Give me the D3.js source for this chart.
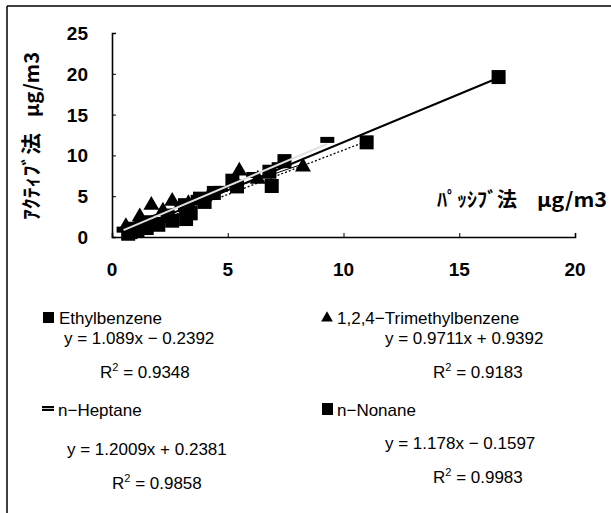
<!DOCTYPE html>
<html>
<head>
<meta charset="utf-8">
<script src="https://cdn.jsdelivr.net/npm/d3@7"></script>
<style>
  html, body { margin: 0; padding: 0; background: #fff; }
  svg { display: block; }
  text { fill: #000; }
</style>
</head>
<body>
<svg id="chart" width="611" height="513"></svg>
<script>
// Passive vs. active sampler concentrations (µg/m3) for four VOCs
const xTicks = [0, 5, 10, 15, 20];
const yTicks = [0, 5, 10, 15, 20, 25];

const ethylbenzene = [
  [0.7, 0.4], [1.1, 0.8], [1.5, 1.1], [2.0, 1.5], [2.6, 2.0], [3.2, 2.2],
  [3.4, 2.9], [3.8, 4.7], [4.4, 5.4], [5.2, 6.9], [6.9, 6.25], [7.45, 9.3],
  [11.0, 11.6]
];
const trimethylbenzene = [
  [0.6, 1.3], [1.2, 2.5], [1.7, 3.9], [2.2, 3.2], [2.6, 4.4], [3.3, 4.1],
  [4.2, 5.1], [5.5, 8.1], [6.3, 7.1], [8.25, 8.6]
];
const heptane = [
  [0.5, 0.9], [1.0, 1.5], [1.6, 2.3], [2.3, 3.1], [3.0, 4.0], [3.7, 4.8],
  [4.7, 5.9], [6.1, 7.6], [7.2, 8.8], [9.3, 11.9]
];
const nonane = [
  [0.8, 0.6], [1.3, 1.2], [1.8, 1.6], [2.4, 2.6], [3.15, 3.9], [4.0, 4.3],
  [5.4, 6.2], [6.8, 8.0], [16.7, 19.6]
];

// Fitted trend lines: [slope, intercept, R²]
const fits = {
  ethylbenzene: [1.089, -0.2392, 0.9348],
  trimethylbenzene: [0.9711, 0.9392, 0.9183],
  heptane: [1.2009, 0.2381, 0.9858],
  nonane: [1.178, -0.1597, 0.9983]
};

const svg = d3.select("#chart");
const latin = "'Liberation Sans', Arial, sans-serif";
const cjk = "'Noto Sans CJK JP', 'Liberation Sans', sans-serif";

// outer frame (top and left edges)
svg.append("line").attr("x1", 7).attr("y1", 6).attr("x2", 611).attr("y2", 6)
  .attr("stroke", "#000").attr("stroke-width", 1.5);
svg.append("line").attr("x1", 7).attr("y1", 6).attr("x2", 7).attr("y2", 513)
  .attr("stroke", "#000").attr("stroke-width", 1.5);

const x = d3.scaleLinear().domain([0, 20]).range([112, 575]);
const y = d3.scaleLinear().domain([0, 25]).range([237, 33]);

// axes with inward ticks
const xAxis = svg.append("g").attr("transform", `translate(0,${y(0)})`)
  .call(d3.axisTop(x).tickValues(xTicks).tickSize(4).tickFormat(""));
const yAxis = svg.append("g").attr("transform", `translate(${x(0)},0)`)
  .call(d3.axisRight(y).tickValues(yTicks).tickSize(4).tickFormat(""));
[xAxis, yAxis].forEach(g => {
  g.select(".domain").attr("stroke", "#000").attr("stroke-width", 1.6);
  g.selectAll(".tick line").attr("stroke", "#000").attr("stroke-width", 1);
});

// tick labels
svg.append("g").selectAll("text").data(xTicks).join("text")
  .attr("x", d => x(d)).attr("y", 276)
  .attr("text-anchor", "middle")
  .style("font", `bold 19px ${latin}`)
  .text(d => d);
svg.append("g").selectAll("text").data(yTicks).join("text")
  .attr("x", 88).attr("y", d => y(d) + 7)
  .attr("text-anchor", "end")
  .style("font", `bold 19px ${latin}`)
  .text(d => d);

// axis titles
const xt = svg.append("g");
xt.append("text").attr("x", 437).attr("y", 207)
  .attr("textLength", 80).attr("lengthAdjust", "spacingAndGlyphs")
  .style("font", `bold 20px ${cjk}`).text("ﾊﾟｯｼﾌﾞ法");
xt.append("text").attr("x", 537).attr("y", 207)
  .attr("textLength", 70).attr("lengthAdjust", "spacingAndGlyphs")
  .style("font", `bold 20px ${cjk}`).text("μg/m3");

const yt = svg.append("g").attr("transform", "translate(39,0) rotate(-90)");
yt.append("text").attr("x", -220).attr("y", 0)
  .attr("textLength", 87).attr("lengthAdjust", "spacingAndGlyphs")
  .style("font", `bold 20px ${cjk}`).text("ｱｸﾃｨﾌﾞ法");
yt.append("text").attr("x", -117).attr("y", 0)
  .attr("textLength", 65).attr("lengthAdjust", "spacingAndGlyphs")
  .style("font", `bold 20px ${cjk}`).text("μg/m3");

// plot layers
const plot = svg.append("g");

function trend(data, fit) {
  const xs = d3.extent(data, d => d[0]);
  return xs.map(v => [v, fit[0] * v + fit[1]]);
}
const line = d3.line().x(d => x(d[0])).y(d => y(d[1]));

// markers
const sq = 14;
function squares(data) {
  plot.append("g").selectAll("rect").data(data).join("rect")
    .attr("x", d => x(d[0]) - sq / 2).attr("y", d => y(d[1]) - sq / 2)
    .attr("width", sq).attr("height", sq).attr("fill", "#000");
}
squares(ethylbenzene);
squares(nonane);
plot.append("g").selectAll("path").data(trimethylbenzene).join("path")
  .attr("transform", d => `translate(${x(d[0])},${y(d[1])})`)
  .attr("d", d3.symbol(d3.symbolTriangle, 110))
  .attr("fill", "#000");
plot.append("g").selectAll("rect").data(heptane).join("rect")
  .attr("x", d => x(d[0]) - 7).attr("y", d => y(d[1]) - 3)
  .attr("width", 14).attr("height", 6).attr("fill", "#000");

// trend lines
plot.append("path").datum(trend(trimethylbenzene, fits.trimethylbenzene))
  .attr("d", line).attr("fill", "none").attr("stroke", "#000").attr("stroke-width", 1);
plot.append("path").datum(trend(ethylbenzene, fits.ethylbenzene))
  .attr("d", line).attr("fill", "none").attr("stroke", "#000")
  .attr("stroke-width", 1.3).attr("stroke-dasharray", "2,2");
plot.append("path").datum(trend(nonane, fits.nonane))
  .attr("d", line).attr("fill", "none").attr("stroke", "#000").attr("stroke-width", 2);
plot.append("path").datum(trend(heptane, fits.heptane))
  .attr("d", line).attr("fill", "none").attr("stroke", "#e0e0e0").attr("stroke-width", 2);

// legend and regression equations
const lg = svg.append("g").style("font", `17px ${latin}`);
function eq(fit) {
  const s = fit[1] < 0 ? " − " : " + ";
  return `y = ${fit[0]}x${s}${Math.abs(fit[1])}`;
}
function r2(g, xPos, yPos, val) {
  const t = g.append("text").attr("x", xPos).attr("y", yPos);
  t.append("tspan").text("R");
  t.append("tspan").attr("dy", -7).style("font-size", "11px").text("2");
  t.append("tspan").attr("dy", 7).text(` = ${val}`);
}

// Ethylbenzene
lg.append("rect").attr("x", 43).attr("y", 312).attr("width", 11).attr("height", 11).attr("fill", "#000");
lg.append("text").attr("x", 59).attr("y", 324).text("Ethylbenzene");
lg.append("text").attr("x", 64).attr("y", 344).text(eq(fits.ethylbenzene));
r2(lg, 100, 378, fits.ethylbenzene[2]);

// 1,2,4-Trimethylbenzene
lg.append("path").attr("transform", "translate(327,318)")
  .attr("d", d3.symbol(d3.symbolTriangle, 60)).attr("fill", "#000");
lg.append("text").attr("x", 337).attr("y", 324).text("1,2,4−Trimethylbenzene");
lg.append("text").attr("x", 385).attr("y", 344).text(eq(fits.trimethylbenzene));
r2(lg, 433, 378, fits.trimethylbenzene[2]);

// n-Heptane
lg.append("rect").attr("x", 42).attr("y", 406).attr("width", 12).attr("height", 5).attr("fill", "#000");
lg.append("line").attr("x1", 42).attr("x2", 54).attr("y1", 408.5).attr("y2", 408.5)
  .attr("stroke", "#ccc").attr("stroke-width", 1);
lg.append("text").attr("x", 58).attr("y", 416).text("n−Heptane");
lg.append("text").attr("x", 67).attr("y", 455).text(eq(fits.heptane));
r2(lg, 112, 489, fits.heptane[2]);

// n-Nonane
lg.append("rect").attr("x", 322).attr("y", 403).attr("width", 11).attr("height", 12).attr("fill", "#000");
lg.append("text").attr("x", 337).attr("y", 416).text("n−Nonane");
lg.append("text").attr("x", 385).attr("y", 449).text(eq(fits.nonane));
r2(lg, 433, 483, fits.nonane[2]);
</script>
</body>
</html>
